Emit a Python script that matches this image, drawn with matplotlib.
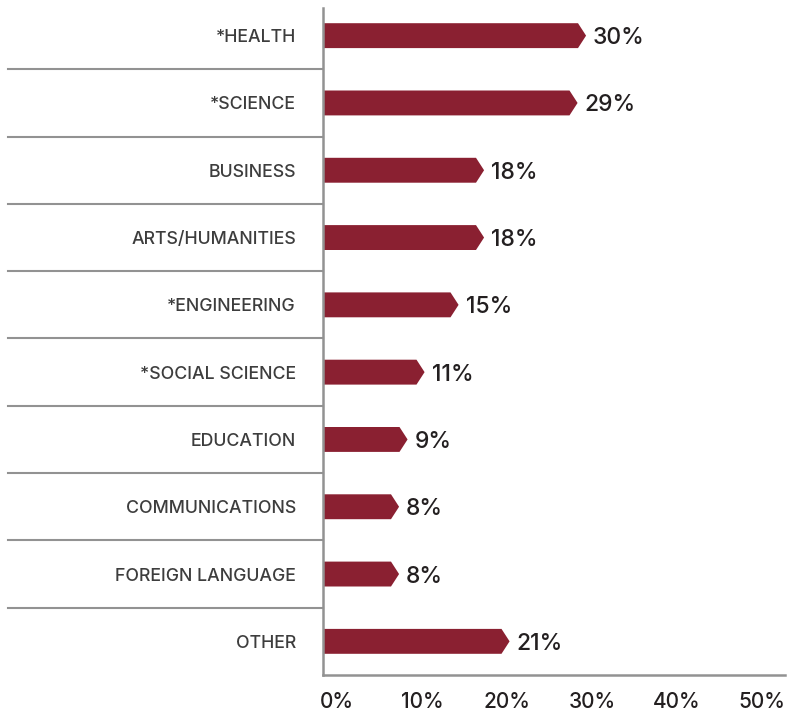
import matplotlib
matplotlib.use("Agg")
import matplotlib.pyplot as plt
from matplotlib.patches import Polygon
from matplotlib.lines import Line2D
from matplotlib.transforms import ScaledTranslation, blended_transform_factory

# Share of respondents by field of study
categories = ["*HEALTH", "*SCIENCE", "BUSINESS", "ARTS/HUMANITIES", "*ENGINEERING",
              "*SOCIAL SCIENCE", "EDUCATION", "COMMUNICATIONS", "FOREIGN LANGUAGE", "OTHER"]
values = [30, 29, 18, 18, 15, 11, 9, 8, 8, 21]
tick_values = [0, 10, 20, 30, 40, 50]
tick_labels = ["0%", "10%", "20%", "30%", "40%", "50%"]

BAR_COLOR = "#8a2031"
GRID_COLOR = "#929292"
TEXT_COLOR = "#231f20"
LABEL_COLOR = "#3d3d3d"
FONT = ["Inter", "DejaVu Sans"]

plt.rcParams["font.family"] = FONT

fig = plt.figure(figsize=(7.9, 7.12), dpi=100)
ax = fig.add_axes([323 / 790, 37 / 712, 462 / 790, 673 / 712])
ax.set_xlim(0, 462 / 8.5)
ax.set_ylim(len(categories) - 0.5, -0.5)

bar_h = 0.37
tip = 0.95  # length of the pointed end, in data units

for i, v in enumerate(values):
    verts = [(0, i - bar_h / 2), (v, i - bar_h / 2), (v + tip, i),
             (v, i + bar_h / 2), (0, i + bar_h / 2)]
    ax.add_patch(Polygon(verts, closed=True, facecolor=BAR_COLOR, edgecolor="none"))
    ax.annotate(f"{v}%", xy=(v + tip, i), xytext=(5, 0), textcoords="offset points",
                ha="left", va="center_baseline", fontsize=16.5, fontweight="medium",
                color=TEXT_COLOR)

# category labels and row separators on the left
trans_lab = ax.transData + ScaledTranslation(-27 / 100, 0, fig.dpi_scale_trans)
for i, c in enumerate(categories):
    ax.text(0, i, c, transform=trans_lab, ha="right", va="center_baseline",
            fontsize=12.8, fontweight="medium", color=LABEL_COLOR)

sep_trans = blended_transform_factory(ax.transAxes, ax.transData)
x_left = (8 - 323) / 462
for i in range(len(categories) - 1):
    ax.add_line(Line2D([x_left, 0], [i + 0.5, i + 0.5], transform=sep_trans,
                       color=GRID_COLOR, lw=1.5, clip_on=False))

# axes frame: left and bottom only
for s in ["top", "right"]:
    ax.spines[s].set_visible(False)
for s in ["left", "bottom"]:
    ax.spines[s].set_color(GRID_COLOR)
    ax.spines[s].set_linewidth(1.8)
ax.spines["left"].set_bounds(len(categories) - 0.5, -0.41)

ax.set_yticks([])
ax.set_xticks([])

# x tick labels
tick_trans = blended_transform_factory(ax.transData, ax.transAxes) + \
    ScaledTranslation(14 / 100, -25 / 100, fig.dpi_scale_trans)
for tv, tl in zip(tick_values, tick_labels):
    ax.text(tv, 0, tl, transform=tick_trans, ha="center", va="center_baseline",
            fontsize=15, fontweight="medium", color=TEXT_COLOR)

fig.savefig("out.png", dpi=100)
